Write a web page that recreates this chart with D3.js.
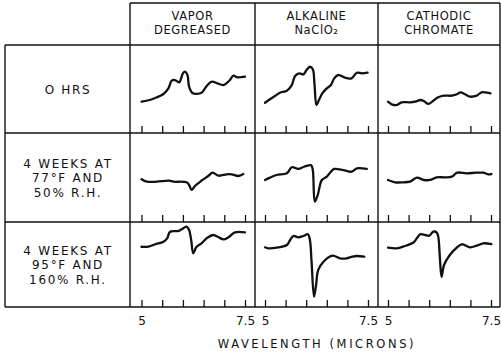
<!DOCTYPE html>
<html><head><meta charset="utf-8">
<script src="https://cdn.jsdelivr.net/npm/d3@7"></script>
<style>body{margin:0;background:#fff}svg{display:block}text{font-family:"DejaVu Sans",sans-serif;fill:#111}</style>
</head><body><svg id="c" width="501" height="356"></svg>
<script>
// Column / row headings
const columns = [["VAPOR","DEGREASED"],["ALKALINE","NaClO\u2082"],["CATHODIC","CHROMATE"]];
const rows = [["O HRS"],["4 WEEKS AT","77\u00b0F AND","50% R.H."],["4 WEEKS AT","95\u00b0F AND","160% R.H."]];
const tickValues = [5,5.5,6,6.5,7,7.5];
const tickLabels = [5,7.5];
const xTitle = "WAVELENGTH (MICRONS)";

// Spectra: [wavelength (microns), relative transmission (0-100 of cell height)]
const r0c0 = [[5.0,35.6],[5.2,37.5],[5.37,40.6],[5.53,44.3],[5.65,50.8],[5.73,59.4],[5.81,60.2],[5.91,57.6],[6.0,67.8],[6.05,69.7],[6.11,65.9],[6.15,52.6],[6.24,45.1],[6.45,45.8],[6.56,52.6],[6.7,58.3],[6.83,56.5],[6.98,54.5],[7.12,59.4],[7.22,65.1],[7.31,63.3],[7.5,64]];
const r0c1 = [[5.0,34.4],[5.12,38.3],[5.24,42],[5.36,45.8],[5.53,48.1],[5.65,54.5],[5.73,64.8],[5.83,67.8],[5.93,66.7],[6.01,71.6],[6.09,75.3],[6.16,72.4],[6.2,56.5],[6.25,31.8],[6.31,37.5],[6.39,45.1],[6.5,50.8],[6.6,54.5],[6.68,62.1],[6.78,65.9],[6.94,62.8],[7.1,62.1],[7.23,68.5],[7.35,67.8],[7.49,68.5]];
const r0c2 = [[5.0,35.6],[5.09,32.6],[5.21,31.8],[5.33,34.9],[5.53,34.9],[5.66,35.6],[5.79,37.5],[5.87,36.4],[5.98,33],[6.1,36.7],[6.22,40.6],[6.36,42.4],[6.55,42.4],[6.67,44],[6.76,46.2],[6.87,44],[6.99,41.3],[7.15,42.4],[7.27,46.2],[7.4,45.8],[7.49,45.1]];
const r1c0 = [[5.0,48],[5.13,45.3],[5.37,45.3],[5.67,46.4],[5.77,45.3],[6.09,44.6],[6.15,41.6],[6.21,36],[6.29,40.4],[6.45,46.4],[6.61,51.7],[6.72,55.4],[6.86,52],[7.06,53.6],[7.18,53.6],[7.34,51.7],[7.46,53.9]];
const r1c1 = [[5.0,47.2],[5.12,49.8],[5.28,52.8],[5.53,54.7],[5.65,61.5],[5.81,59.6],[5.95,62.1],[6.12,63.7],[6.16,58.4],[6.21,22.8],[6.28,30.3],[6.38,47.2],[6.5,50.9],[6.6,56.5],[6.68,59.6],[6.9,58.4],[7.1,56.5],[7.23,60.3],[7.47,59.6]];
const r1c2 = [[5.0,47.2],[5.17,44.6],[5.37,44.6],[5.53,45.3],[5.7,49.8],[5.87,47.2],[6.02,47.2],[6.18,50.2],[6.38,50.2],[6.55,50.9],[6.68,55.4],[6.91,54.7],[7.14,55.4],[7.31,55.4],[7.43,53.6],[7.51,53.9]];
const r2c0 = [[5.0,70.9],[5.16,70.9],[5.33,73.8],[5.53,76.8],[5.62,80.8],[5.69,88.6],[5.89,89.4],[5.97,91.4],[6.09,94.5],[6.15,90.6],[6.2,78.8],[6.25,63.2],[6.33,70.9],[6.45,74.9],[6.59,81.5],[6.73,84.7],[6.86,82],[6.98,79.6],[7.1,82],[7.26,87.9],[7.5,87.9]];
const r2c1 = [[5.0,70.2],[5.08,69],[5.32,70.2],[5.53,72.9],[5.61,78.8],[5.69,83.5],[5.81,82],[5.93,83.5],[6.04,85.5],[6.09,78.8],[6.13,53.3],[6.19,12.1],[6.24,25.9],[6.29,43.5],[6.42,53.3],[6.64,60.4],[6.82,57.3],[6.98,57.3],[7.12,59.2],[7.23,60],[7.41,59.2]];
const r2c2 = [[5.0,69.8],[5.21,69],[5.41,71.8],[5.61,75.6],[5.7,80.8],[5.78,85.5],[5.9,84.7],[6.0,83.9],[6.1,88.6],[6.18,87.9],[6.22,82.7],[6.26,57.3],[6.3,35.6],[6.36,49.4],[6.5,61.2],[6.65,69],[6.79,73.8],[6.99,70.2],[7.15,72.1],[7.31,74.9],[7.51,74.1]];
const spectra = [[r0c0,r0c1,r0c2],[r1c0,r1c1,r1c2],[r2c0,r2c1,r2c2]];

// Layout
const svg = d3.select("#c");
const colEdges = [130,255,378,500];
const rowEdges = [45,133,222,307];
const headerTop = 3, leftEdge = 5;
const ink = "#111";

const g = svg.append("g").attr("stroke",ink).attr("stroke-width",1.4).attr("fill","none");
g.append("line").attr("x1",colEdges[0]).attr("x2",colEdges[3]).attr("y1",headerTop).attr("y2",headerTop);
rowEdges.forEach(y=>g.append("line").attr("x1",leftEdge).attr("x2",colEdges[3]).attr("y1",y).attr("y2",y));
colEdges.forEach(x=>g.append("line").attr("x1",x).attr("x2",x).attr("y1",headerTop).attr("y2",rowEdges[3]));
g.append("line").attr("x1",leftEdge).attr("x2",leftEdge).attr("y1",rowEdges[0]).attr("y2",rowEdges[3]);

// headers
columns.forEach((lines,i)=>{
  const cx=(colEdges[i]+colEdges[i+1])/2;
  lines.forEach((t,j)=>svg.append("text").attr("x",cx).attr("y",20+j*14).attr("text-anchor","middle")
    .attr("font-size",11.5).attr("letter-spacing",0.6).text(t));
});
rows.forEach((lines,i)=>{
  const cy=(rowEdges[i]+rowEdges[i+1])/2;
  const n=lines.length;
  lines.forEach((t,j)=>svg.append("text").attr("x",68).attr("y",cy+4.5+(j-(n-1)/2)*14.5).attr("text-anchor","middle")
    .attr("font-size",12).attr("letter-spacing",1.7).text(t));
});

// cells
const xStart=[141.5,265,388], xEnd=[245,368,491];
spectra.forEach((row,ri)=>{
  const y=d3.scaleLinear().domain([0,100]).range([rowEdges[ri+1],rowEdges[ri]]);
  row.forEach((data,ci)=>{
    const x=d3.scaleLinear().domain([5,7.5]).range([xStart[ci],xEnd[ci]]);
    const ax=svg.append("g").attr("transform",`translate(0,${rowEdges[ri+1]})`)
      .call(d3.axisBottom(x).tickValues(tickValues).tickSize(-7).tickFormat(""));
    ax.select(".domain").remove();
    ax.selectAll("line").attr("stroke",ink).attr("stroke-width",1.3);
    svg.append("path").datum(data).attr("fill","none").attr("stroke",ink).attr("stroke-width",2.3)
      .attr("stroke-linejoin","round").attr("stroke-linecap","round")
      .attr("d",d3.line().x(d=>x(d[0])).y(d=>y(d[1])).curve(d3.curveCatmullRom.alpha(0.5)));
    if(ri===2){
      const lab=svg.append("g").attr("transform",`translate(0,${rowEdges[3]})`)
        .call(d3.axisBottom(x).tickValues(tickLabels).tickSize(0).tickPadding(9).tickFormat(d3.format("")));
      lab.select(".domain").remove();
      lab.selectAll("text").attr("font-size",12).attr("font-family","DejaVu Sans, sans-serif").attr("fill",ink);
    }
  });
});
svg.append("text").attr("x",317).attr("y",348).attr("text-anchor","middle").attr("font-size",11.5)
  .attr("letter-spacing",2.6).text(xTitle);
</script></body></html>
